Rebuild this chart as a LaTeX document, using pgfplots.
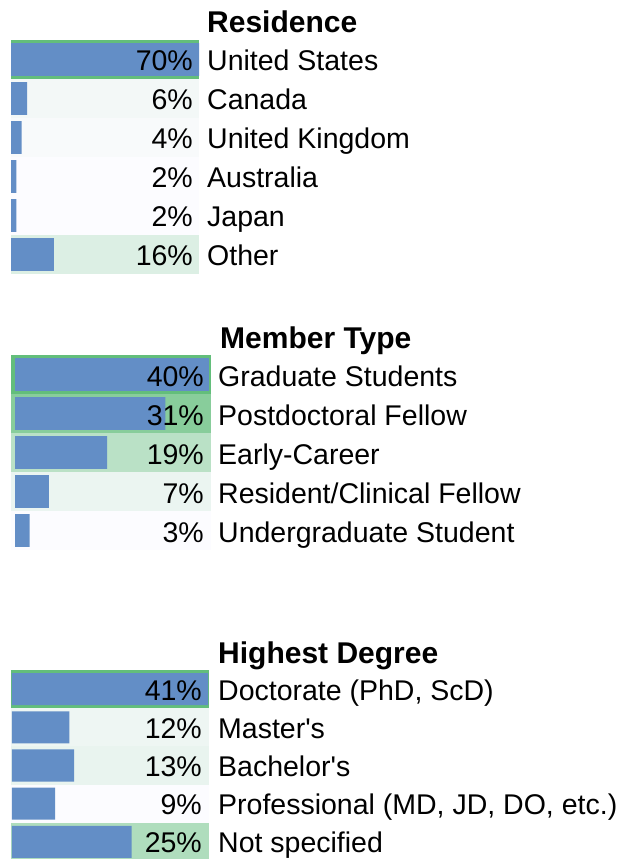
\documentclass[border=0pt]{standalone}
\usepackage{pgfplots}
\pgfplotsset{compat=1.18}
\usepackage{fontspec}
\setmainfont{Liberation Sans}
\definecolor{barblue}{RGB}{99,142,198}
\definecolor{g100}{RGB}{99,190,123}
% Residence backgrounds
\definecolor{rCA}{RGB}{243,248,247}
\definecolor{rUK}{RGB}{248,250,251}
\definecolor{rW}{RGB}{252,252,255}
\definecolor{rOT}{RGB}{220,239,228}
% Member type backgrounds
\definecolor{mPD}{RGB}{136,205,155}
\definecolor{mEC}{RGB}{186,225,198}
\definecolor{mRC}{RGB}{235,245,241}
% Degree backgrounds
\definecolor{dMA}{RGB}{238,246,243}
\definecolor{dBA}{RGB}{233,244,239}
\definecolor{dNS}{RGB}{175,221,189}
\newcommand\lbl{\fontsize{28.5}{30}\selectfont}
\newcommand\ttl{\fontsize{30}{32}\selectfont\bfseries}
\tikzset{
  pctA/.style={anchor=base east, xshift=-6pt, yshift=-11.5pt, font=\lbl, inner sep=0pt},
  catA/.style={anchor=base west, xshift=8pt, yshift=-11.5pt, font=\lbl, inner sep=0pt},
  pctB/.style={anchor=base east, xshift=-5pt, yshift=-12.5pt, font=\lbl, inner sep=0pt},
  catB/.style={anchor=base west, xshift=9pt, yshift=-12.5pt, font=\lbl, inner sep=0pt},
  pctC/.style={anchor=base east, xshift=-6pt, yshift=-11pt, font=\lbl, inner sep=0pt},
  catC/.style={anchor=base west, xshift=10pt, yshift=-11pt, font=\lbl, inner sep=0pt},
}
\pgfplotsset{
  cell/.style={scale only axis, anchor=north west, hide axis, clip=false,
    y dir=reverse, xmin=0, ymin=-0.5},
  bg/.style={xbar, bar width=1, bar shift=0pt, draw=none, fill=#1},
  databar/.style={xbar, bar width=0.84, bar shift=0pt, draw=none, fill=barblue},
}
\begin{document}
\begin{tikzpicture}
\useasboundingbox (0,0) rectangle (620pt,859pt);
% ---------------- Residence ----------------
\begin{axis}[cell, at={(11pt,819pt)}, width=188pt, height=234pt, xmax=1, ymax=5.5]
\addplot[bg=g100] coordinates {(1,0)};
\addplot[bg=rCA] coordinates {(1,1)};
\addplot[bg=rUK] coordinates {(1,2)};
\addplot[bg=rW] coordinates {(1,3)};
\addplot[bg=rW] coordinates {(1,4)};
\addplot[bg=rOT] coordinates {(1,5)};
\end{axis}
\begin{axis}[cell, at={(11pt,819pt)}, width=188pt, height=234pt, xmax=70, ymax=5.5]
\addplot[databar] coordinates {(70,0) (6,1) (4,2) (2,3) (2,4) (16,5)};
\node[pctA] at (axis cs:70,0) {70\%}; \node[catA] at (axis cs:70,0) {United States};
\node[pctA] at (axis cs:70,1) {6\%};  \node[catA] at (axis cs:70,1) {Canada};
\node[pctA] at (axis cs:70,2) {4\%};  \node[catA] at (axis cs:70,2) {United Kingdom};
\node[pctA] at (axis cs:70,3) {2\%};  \node[catA] at (axis cs:70,3) {Australia};
\node[pctA] at (axis cs:70,4) {2\%};  \node[catA] at (axis cs:70,4) {Japan};
\node[pctA] at (axis cs:70,5) {16\%}; \node[catA] at (axis cs:70,5) {Other};
\end{axis}
\node[anchor=base west, font=\ttl, inner sep=0pt] at (207pt,826pt) {Residence};
% ---------------- Member Type ----------------
\begin{axis}[cell, at={(11pt,504pt)}, width=200pt, height=195pt, xmax=1, ymax=4.5]
\addplot[bg=g100] coordinates {(1,0)};
\addplot[bg=mPD] coordinates {(1,1)};
\addplot[bg=mEC] coordinates {(1,2)};
\addplot[bg=mRC] coordinates {(1,3)};
\addplot[bg=rW] coordinates {(1,4)};
\end{axis}
\begin{axis}[cell, at={(15pt,504pt)}, width=194pt, height=195pt, xmax=40, ymax=4.5]
\addplot[databar] coordinates {(40,0) (31,1) (19,2) (7,3) (3,4)};
\node[pctB] at (axis cs:40,0) {40\%}; \node[catB] at (axis cs:40,0) {Graduate Students};
\node[pctB] at (axis cs:40,1) {31\%}; \node[catB] at (axis cs:40,1) {Postdoctoral Fellow};
\node[pctB] at (axis cs:40,2) {19\%}; \node[catB] at (axis cs:40,2) {Early-Career};
\node[pctB] at (axis cs:40,3) {7\%};  \node[catB] at (axis cs:40,3) {Resident/Clinical Fellow};
\node[pctB] at (axis cs:40,4) {3\%};  \node[catB] at (axis cs:40,4) {Undergraduate Student};
\end{axis}
\node[anchor=base west, font=\ttl, inner sep=0pt] at (220pt,510pt) {Member Type};
% ---------------- Highest Degree ----------------
\begin{axis}[cell, at={(11pt,189pt)}, width=198pt, height=191pt, xmax=1, ymax=4.5]
\addplot[bg=g100] coordinates {(1,0)};
\addplot[bg=dMA] coordinates {(1,1)};
\addplot[bg=dBA] coordinates {(1,2)};
\addplot[bg=rW] coordinates {(1,3)};
\addplot[bg=dNS] coordinates {(1,4)};
\end{axis}
\begin{axis}[cell, at={(12pt,189pt)}, width=196pt, height=191pt, xmax=41, ymax=4.5]
\addplot[databar] coordinates {(41,0) (12,1) (13,2) (9,3) (25,4)};
\node[pctC] at (axis cs:41,0) {41\%}; \node[catC] at (axis cs:41,0) {Doctorate (PhD, ScD)};
\node[pctC] at (axis cs:41,1) {12\%}; \node[catC] at (axis cs:41,1) {Master\textquotesingle s};
\node[pctC] at (axis cs:41,2) {13\%}; \node[catC] at (axis cs:41,2) {Bachelor\textquotesingle s};
\node[pctC] at (axis cs:41,3) {9\%};  \node[catC] at (axis cs:41,3) {Professional (MD, JD, DO, etc.)};
\node[pctC] at (axis cs:41,4) {25\%}; \node[catC] at (axis cs:41,4) {Not specified};
\end{axis}
\node[anchor=base west, font=\ttl, inner sep=0pt] at (218pt,195pt) {Highest Degree};
\end{tikzpicture}
\end{document}
